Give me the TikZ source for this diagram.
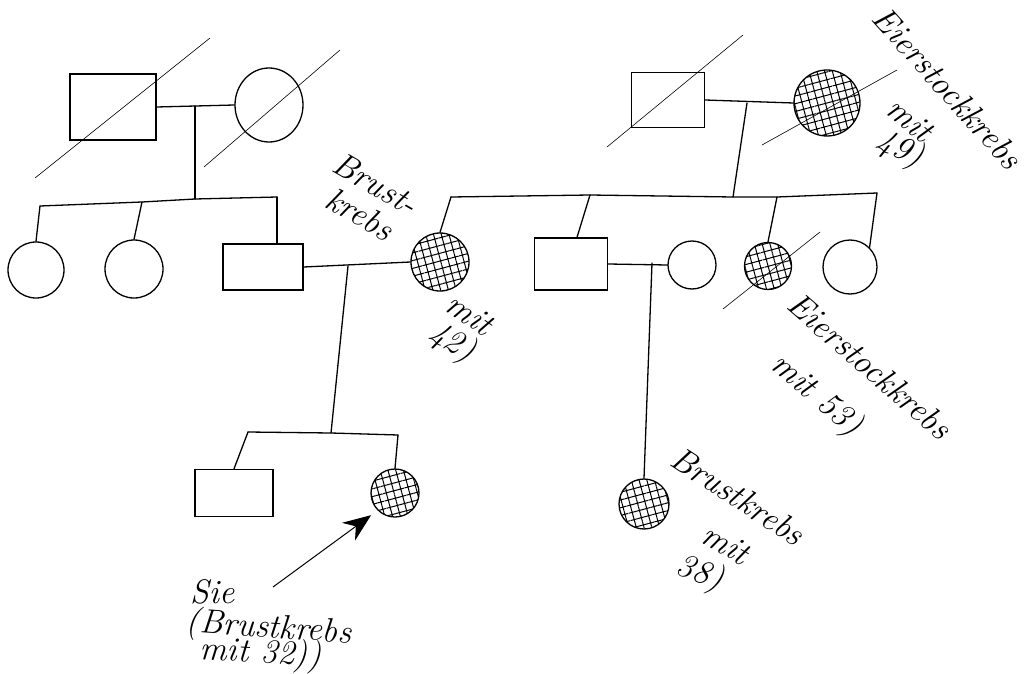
\documentclass[tikz,border=0pt]{standalone}
\usetikzlibrary{patterns.meta,shapes.geometric,arrows.meta}
\begin{document}
\begin{tikzpicture}[x=1pt,y=-1pt,
  ln/.style={line width=1.3pt, line join=round, line cap=round},
  strike/.style={line width=0.6pt},
  male/.style={draw, line width=1.3pt, rectangle, inner sep=0pt},
  female/.style={draw, line width=1.3pt, ellipse, inner sep=0pt},
  aff/.style={pattern={Hatch[angle=15,distance=7.5pt,line width=1pt]}},
  lbl/.style={font=\fontsize{34}{36}\selectfont\itshape, inner sep=0pt}]
\useasboundingbox (0,0) rectangle (1030,674);
% generation 1 left
\node[male, minimum width=86pt, minimum height=66pt] (A) at (113,107) {};
\node[female, minimum width=68pt, minimum height=74pt] (B) at (269,105) {};
\draw[strike] (35,178) -- (210,38);
\draw[strike] (204,167) -- (340,50);
\draw[ln] (A.east) -- (B.west);
\coordinate (AB) at (195,106);
\coordinate (S1) at (195,199);
\draw[ln] (AB) -- (S1);
\coordinate (s1a) at (40,206);
\coordinate (s1b) at (142,202);
\coordinate (s1c) at (277,197);
\draw[ln] (s1a) -- (s1b) -- (S1) -- (s1c);
% generation 2 left
\node[female, minimum size=56pt] (C1) at (36,270) {};
\node[female, minimum size=58pt] (C2) at (134,269) {};
\node[male, minimum width=80pt, minimum height=46pt] (D) at (263,267) {};
\draw[ln] (s1a) -- (C1.north);
\draw[ln] (s1b) -- (C2.north);
\draw[ln] (s1c) -- ([xshift=14pt]D.north);
% generation 1 right
\node[male, minimum width=73pt, minimum height=55pt] (H) at (668,100) {};
\node[female, aff, minimum size=66pt] (I) at (827,103) {};
\draw[strike] (607,147) -- (743,35);
\draw[strike] (762,145) -- (897,70);
\draw[ln] (H.east) -- (I.west);
\coordinate (HI) at (747,103);
\coordinate (S2) at (733,197);
\draw[ln] (HI) -- (S2);
\coordinate (s2a) at (451,197);
\coordinate (s2b) at (590,195);
\coordinate (s2c) at (777,197);
\coordinate (s2d) at (877,193);
\draw[ln] (s2a) -- (s2b) -- (S2) -- (s2c) -- (s2d);
% generation 2 right
\node[female, aff, minimum size=58pt] (E) at (440,262) {};
\node[male, minimum width=73pt, minimum height=52pt] (J) at (571,264) {};
\node[female, minimum size=48pt] (K) at (692,265) {};
\node[female, aff, minimum size=47pt] (L) at (768,266) {};
\node[female, minimum size=54pt] (M) at (850,267) {};
\draw[ln] (s2a) -- (E.north);
\draw[ln] (s2b) -- ([xshift=6pt]J.north);
\draw[ln] (s2c) -- (L.north);
\draw[ln] (s2d) -- (M.north east);
\draw[strike] (723,309) -- (820,232);
% couples
\draw[ln] (D.east) -- (E.west);
\draw[ln] (J.east) -- (K.west);
\coordinate (DE) at (348,266);
\coordinate (S3) at (331,433);
\draw[ln] (DE) -- (S3);
\coordinate (JK) at (652,263);
% generation 3
\node[male, minimum width=78pt, minimum height=47pt] (F) at (234,493) {};
\node[female, aff, minimum size=48pt] (G) at (395,493) {};
\node[female, aff, minimum size=50pt] (N) at (644,504) {};
\coordinate (s3a) at (248,432);
\coordinate (s3b) at (398,435);
\draw[ln] (s3a) -- (S3) -- (s3b);
\draw[ln] (s3a) -- (F.north);
\draw[ln] (s3b) -- (G.north);
\draw[ln] (JK) -- (N.north);
% arrow
\coordinate (arr) at (273,587);
\draw[line width=1pt, shorten >=8pt, -{Stealth[length=28pt,width=22pt]}] (arr) -- (G.south west);
% labels
\node[lbl, rotate=-30] (t1a) at (376,184) {Brust-};
\node[lbl, rotate=-30] (t1b) at (360,214) {krebs};
\node[lbl, rotate=-35] (t2a) at (470,314) {mit};
\node[lbl, rotate=-30] (t2b) at (452,343) {42)};
\node[lbl, rotate=-48] (t3a) at (948,88) {Eierstockkrebs};
\node[lbl, rotate=-40] (t3b) at (910,120) {mit};
\node[lbl, rotate=-25] (t3c) at (900,150) {49)};
\node[lbl, rotate=-41] (t4a) at (870,366) {Eierstockkrebs};
\node[lbl, rotate=-40] (t4b) at (816,396) {mit 53)};
\node[lbl, rotate=-33] (t5a) at (738,496) {Brustkrebs};
\node[lbl, rotate=-30] (t5b) at (726,544) {mit};
\node[lbl, rotate=-20] (t5c) at (700,574) {38)};
\node[lbl, anchor=west] (t6a) at (190,592) {Sie};
\node[lbl, anchor=west, rotate=-4] (t6b) at (186,623) {(Brustkrebs};
\node[lbl, anchor=west, rotate=-3] (t6c) at (200,651) {mit 32))};
\end{tikzpicture}
\end{document}
